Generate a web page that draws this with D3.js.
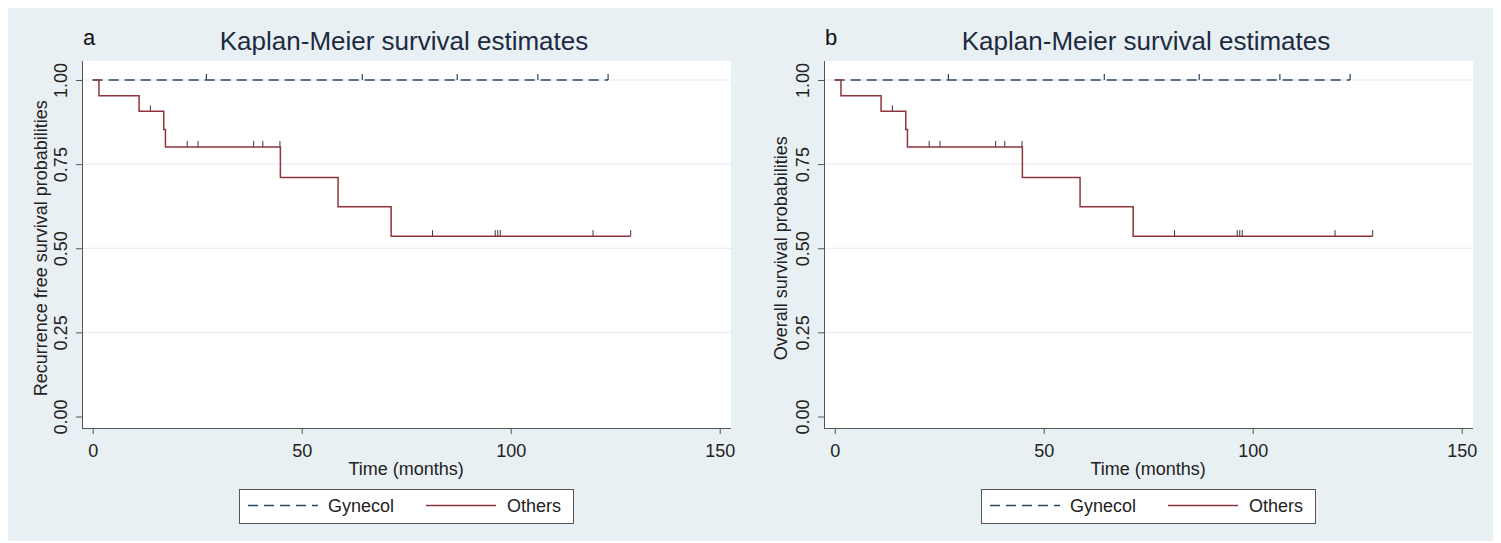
<!DOCTYPE html>
<html>
<head>
<meta charset="utf-8">
<script src="https://cdn.jsdelivr.net/npm/d3@7"></script>
<style>
  body { margin: 0; background: #fff; }
  text { font-family: "Liberation Sans", Arial, sans-serif; }
</style>
</head>
<body>
<svg id="chart" width="1501" height="543"></svg>
<script>
// Kaplan-Meier step data (time in months, survival probability)
var othersTimes = [0, 1.5, 11.1, 17.0, 17.4, 44.9, 58.7, 71.4, 128.7];
var othersSurv  = [1.0, 0.953, 0.907, 0.853, 0.801, 0.710, 0.623, 0.536, 0.536];
var othersCensored = [13.8, 22.6, 25.2, 38.5, 40.7, 44.8, 81.3, 96.3, 96.9, 97.5, 119.7, 128.7];

var gynecolTimes = [0, 123.3];
var gynecolSurv  = [1.0, 1.0];
var gynecolCensored = [27.2, 64.5, 87.2, 106.5, 123.3];

var xTicks = [0, 50, 100, 150];
var yTicks = [0, 0.25, 0.5, 0.75, 1];
var panelLetters = ["a", "b"];
var yTitles = ["Recurrence free survival probabilities", "Overall survival probabilities"];
var chartTitle = "Kaplan-Meier survival estimates";
var seriesNames = ["Gynecol", "Others"];

var navy = "#2b4560";
var maroon = "#90353b";

var svg = d3.select("#chart");

// graph region background
svg.append("rect")
    .attr("x", 8).attr("y", 8)
    .attr("width", 1485).attr("height", 533)
    .attr("fill", "#e9f0f3");

function toPoints(times, surv)
{
    return times.map(function(t, i) { return {t: t, s: surv[i]}; });
}

// survival value just at time t (step after)
function survAt(times, surv, t)
{
    var s = surv[0];
    for (var i = 0; i < times.length; i++) {
        if (times[i] <= t) s = surv[i];
    }
    return s;
}

function drawPanel(idx, dx)
{
    var g = svg.append("g").attr("transform", "translate(" + dx + ",0)");

    var x = d3.scaleLinear().domain([0, 150]).range([92.7, 719.7]);
    var y = d3.scaleLinear().domain([0, 1]).range([416.5, 80]);

    // plot region
    g.append("rect")
        .attr("x", 82).attr("y", 61)
        .attr("width", 649).attr("height", 367)
        .attr("fill", "#ffffff");

    // grid
    g.append("g").selectAll("line")
        .data(yTicks.filter(function(d) { return d > 0; }))
        .enter().append("line")
        .attr("x1", 82).attr("x2", 731)
        .attr("y1", function(d) { return y(d); })
        .attr("y2", function(d) { return y(d); })
        .attr("stroke", "#e3eaee")
        .attr("stroke-width", 1);

    // y axis
    var yAxis = g.append("g")
        .attr("transform", "translate(82,0)")
        .call(d3.axisLeft(y).tickValues(yTicks).tickSize(6).tickPadding(0)
              .tickFormat(d3.format(".2f")));
    yAxis.select(".domain").attr("d", "M0.5,61V428.5").attr("stroke", "#555");
    yAxis.selectAll(".tick line").attr("stroke", "#555");
    yAxis.selectAll(".tick text")
        .attr("transform", "translate(-15,0) rotate(-90)")
        .attr("x", 0).attr("y", 0).attr("dy", 0)
        .attr("text-anchor", "middle")
        .attr("font-size", 18)
        .attr("fill", "#222");

    // x axis
    var xAxis = g.append("g")
        .attr("transform", "translate(0,428)")
        .call(d3.axisBottom(x).tickValues(xTicks).tickSize(6).tickPadding(0));
    xAxis.select(".domain").attr("d", "M82,0.5H731").attr("stroke", "#555");
    xAxis.selectAll(".tick line").attr("stroke", "#555");
    xAxis.selectAll(".tick text")
        .attr("y", 29).attr("dy", 0)
        .attr("font-size", 18)
        .attr("fill", "#222");

    // axis titles
    g.append("text")
        .attr("transform", "translate(" + (idx === 0 ? 47 : 45) + "," + y(0.5) + ") rotate(-90)")
        .attr("text-anchor", "middle")
        .attr("font-size", 18)
        .attr("fill", "#222")
        .text(yTitles[idx]);

    g.append("text")
        .attr("x", x(75)).attr("y", 475)
        .attr("text-anchor", "middle")
        .attr("font-size", 18)
        .attr("fill", "#222")
        .text("Time (months)");

    // titles
    g.append("text")
        .attr("x", 83).attr("y", 45)
        .attr("font-size", 22)
        .attr("fill", "#111")
        .text(panelLetters[idx]);

    g.append("text")
        .attr("x", 404).attr("y", 50)
        .attr("text-anchor", "middle")
        .attr("font-size", 26)
        .attr("fill", "#1c2b40")
        .text(chartTitle);

    var line = d3.line()
        .x(function(d) { return x(d.t); })
        .y(function(d) { return y(d.s); })
        .curve(d3.curveStepAfter);

    // Gynecol (dashed)
    g.append("path")
        .datum(toPoints(gynecolTimes, gynecolSurv))
        .attr("d", line)
        .attr("fill", "none")
        .attr("stroke", navy)
        .attr("stroke-width", 1.5)
        .attr("stroke-dasharray", "10,6");

    g.append("g").selectAll("line")
        .data(gynecolCensored)
        .enter().append("line")
        .attr("x1", function(d) { return x(d); })
        .attr("x2", function(d) { return x(d); })
        .attr("y1", function(d) { return y(survAt(gynecolTimes, gynecolSurv, d)); })
        .attr("y2", function(d) { return y(survAt(gynecolTimes, gynecolSurv, d)) - 6; })
        .attr("stroke", navy)
        .attr("stroke-width", 1.2);

    // Others (solid)
    g.append("path")
        .datum(toPoints(othersTimes, othersSurv))
        .attr("d", line)
        .attr("fill", "none")
        .attr("stroke", maroon)
        .attr("stroke-width", 1.5);

    g.append("g").selectAll("line")
        .data(othersCensored)
        .enter().append("line")
        .attr("x1", function(d) { return x(d); })
        .attr("x2", function(d) { return x(d); })
        .attr("y1", function(d) { return y(survAt(othersTimes, othersSurv, d)); })
        .attr("y2", function(d) { return y(survAt(othersTimes, othersSurv, d)) - 6; })
        .attr("stroke", "#3a3a3a")
        .attr("stroke-width", 1);

    // legend
    var lg = g.append("g");
    lg.append("rect")
        .attr("x", 239.5).attr("y", 489.5)
        .attr("width", 334).attr("height", 34)
        .attr("fill", "#fff")
        .attr("stroke", "#555");
    lg.append("line")
        .attr("x1", 248).attr("x2", 318)
        .attr("y1", 505.5).attr("y2", 505.5)
        .attr("stroke", navy).attr("stroke-width", 1.5)
        .attr("stroke-dasharray", "10,6");
    lg.append("text")
        .attr("x", 328).attr("y", 512)
        .attr("font-size", 18).attr("fill", "#222")
        .text(seriesNames[0]);
    lg.append("line")
        .attr("x1", 426).attr("x2", 496)
        .attr("y1", 505.5).attr("y2", 505.5)
        .attr("stroke", maroon).attr("stroke-width", 1.5);
    lg.append("text")
        .attr("x", 507).attr("y", 512)
        .attr("font-size", 18).attr("fill", "#222")
        .text(seriesNames[1]);
}

drawPanel(0, 0);
drawPanel(1, 742);
</script>
</body>
</html>
